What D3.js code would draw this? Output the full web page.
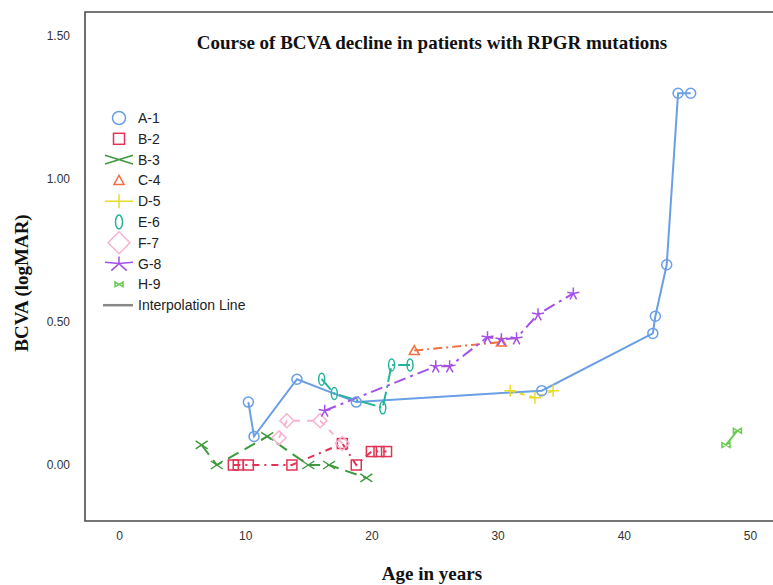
<!DOCTYPE html>
<html><head><meta charset="utf-8">
<script src="https://cdn.jsdelivr.net/npm/d3@7"></script>
<style>body{margin:0;background:#fff}svg{display:block}</style>
</head><body>
<svg id="c" width="773" height="585"></svg>
<script>
// Data (age in years, BCVA logMAR)
const patients = ["A-1","B-2","B-3","C-4","D-5","E-6","F-7","G-8","H-9"];
const colors = ["#6a9fe6","#e23355","#3f9a3f","#f27040","#e6dc2a","#25b39b","#f7b3cf","#a550e8","#6acb50"];
const A1 = [[10.25,0.22],[10.7,0.10],[14.1,0.30],[18.8,0.22],[33.5,0.26],[42.3,0.46],[42.5,0.52],[43.4,0.70],[44.3,1.30],[45.3,1.30]];
const B2 = [[9.06,0.0],[9.45,0.0],[10.25,0.0],[13.7,0.0],[17.7,0.075],[18.8,0.0],[20.0,0.047],[20.6,0.047],[21.2,0.047]];
const B3 = [[6.55,0.07],[7.75,0.0],[11.75,0.10],[15.0,0.0],[16.65,0.0],[19.6,-0.045]];
const C4 = [[23.4,0.40],[30.3,0.43]];
const D5 = [[31.0,0.26],[32.96,0.235],[34.4,0.26]];
const E6 = [[16.06,0.30],[17.06,0.25],[20.9,0.20],[21.6,0.35],[23.06,0.35]];
const F7 = [[12.68,0.095],[13.3,0.155],[15.93,0.155],[17.7,0.075]];
const G8 = [[16.3,0.19],[25.1,0.345],[26.2,0.345],[29.2,0.447],[30.3,0.44],[31.5,0.443],[33.2,0.527],[36.0,0.60]];
const H9 = [[48.1,0.07],[49.0,0.12]];
const seriesData = [A1,B2,B3,C4,D5,E6,F7,G8,H9];
const xTicks = [0,10,20,30,40,50];
const yTicks = [0.0,0.5,1.0,1.5];

const markers = ["circle","square","x","triangle","plus","oval","diamond","asterisk","bowtie"];
const dashes = [null,"7,5,2,5","12,7","9,4,2,4","5,5","14,4,2,4","6,7","12,5,3,5",null];

const svg = d3.select("#c");
const x = d3.scaleLinear().domain([0,50]).range([119,750]);
const y = d3.scaleLinear().domain([0,1.5]).range([465,36]);

// frame
svg.append("path").attr("d","M785,12H85V521H785")
  .attr("fill","none").attr("stroke","#4a4a4a").attr("stroke-width",1.6);

// axes
const xa = svg.append("g").attr("transform","translate(0,521)")
  .call(d3.axisBottom(x).tickValues(xTicks).tickSize(0).tickPadding(10).tickFormat(d3.format("d")));
xa.select(".domain").remove();
xa.selectAll("text").attr("font-family","Liberation Sans, Arial, sans-serif").attr("font-size",12).attr("fill","#333");
const ya = svg.append("g").attr("transform","translate(70,0)")
  .call(d3.axisLeft(y).tickValues(yTicks).tickSize(0).tickPadding(0).tickFormat(d3.format(".2f")));
ya.select(".domain").remove();
ya.selectAll("text").attr("font-family","Liberation Sans, Arial, sans-serif").attr("font-size",12).attr("fill","#333");

// titles
svg.append("text").attr("x",432).attr("y",49).attr("text-anchor","middle")
  .attr("font-family","Liberation Serif, Times New Roman, serif").attr("font-weight","bold").attr("font-size",19)
  .attr("fill","#111").text("Course of BCVA decline in patients with RPGR mutations");
svg.append("text").attr("x",432).attr("y",580).attr("text-anchor","middle")
  .attr("font-family","Liberation Serif, Times New Roman, serif").attr("font-weight","bold").attr("font-size",19)
  .attr("fill","#111").text("Age in years");
svg.append("text").attr("transform","translate(28,283) rotate(-90)").attr("text-anchor","middle")
  .attr("font-family","Liberation Serif, Times New Roman, serif").attr("font-weight","bold").attr("font-size",19)
  .attr("fill","#111").text("BCVA (logMAR)");

function drawMarker(g, type, color, s, wide){
  const st = el => el.attr("fill","none").attr("stroke",color).attr("stroke-width",1.5);
  if(type==="circle") st(g.append("circle").attr("r",s));
  else if(type==="square") st(g.append("rect").attr("x",-s).attr("y",-s).attr("width",2*s).attr("height",2*s));
  else if(type==="x"){const w=wide||s*1.2; st(g.append("path").attr("d",`M${-w},${-s*0.8}L${w},${s*0.8}M${-w},${s*0.8}L${w},${-s*0.8}`));}
  else if(type==="triangle") st(g.append("path").attr("d",`M0,${-s}L${s},${s*0.8}L${-s},${s*0.8}Z`));
  else if(type==="plus"){const w=wide||s; st(g.append("path").attr("d",`M${-w},0H${w}M0,${-s}V${s}`));}
  else if(type==="oval") st(g.append("ellipse").attr("rx",s*0.5).attr("ry",s));
  else if(type==="diamond") st(g.append("path").attr("d",`M0,${-s}L${s},0L0,${s}L${-s},0Z`));
  else if(type==="asterisk"){const w=wide||s; st(g.append("path").attr("d",`M0,${-s}V0M${-w},${-s*0.2}L0,0L${w},${-s*0.2}M${-w*0.55},${s}L0,0L${w*0.55},${s}`));}
  else if(type==="bowtie") st(g.append("path").attr("d",`M${-s},${-s*0.6}L${s},${s*0.6}V${-s*0.6}L${-s},${s*0.6}Z`));
}

const line = d3.line().x(d=>x(d[0])).y(d=>y(d[1]));
const msize = [5,5,5,5,6,6,7,6,4];
seriesData.forEach((data,i)=>{
  const sorted = data.slice().sort((a,b)=>a[0]-b[0]);
  svg.append("path").attr("d",line(sorted)).attr("fill","none")
    .attr("stroke",colors[i]).attr("stroke-width",2)
    .attr("stroke-dasharray",dashes[i]);
});
seriesData.forEach((data,i)=>{
  data.forEach(d=>{
    const g = svg.append("g").attr("transform",`translate(${x(d[0])},${y(d[1])})`);
    drawMarker(g, markers[i], colors[i], msize[i]);
  });
});

// legend
const leg = svg.append("g");
const lsize = [6.5,5.5,5.5,5,7,7,11,7,4];
const lwide = [null,null,14,null,14,null,null,14,null];
patients.forEach((p,i)=>{
  const yy = 118 + i*20.8;
  const g = leg.append("g").attr("transform",`translate(119,${yy})`);
  drawMarker(g, markers[i], colors[i], lsize[i], lwide[i]);
  leg.append("text").attr("x",138).attr("y",yy+5).attr("font-family","Liberation Sans, Arial, sans-serif")
    .attr("font-size",14).attr("fill","#222").text(p);
});
const ly = 118 + 9*20.8;
leg.append("line").attr("x1",103).attr("x2",133).attr("y1",ly).attr("y2",ly).attr("stroke","#888").attr("stroke-width",2.5);
leg.append("text").attr("x",138).attr("y",ly+5).attr("font-family","Liberation Sans, Arial, sans-serif")
  .attr("font-size",14).attr("fill","#222").text("Interpolation Line");
</script>
</body></html>
